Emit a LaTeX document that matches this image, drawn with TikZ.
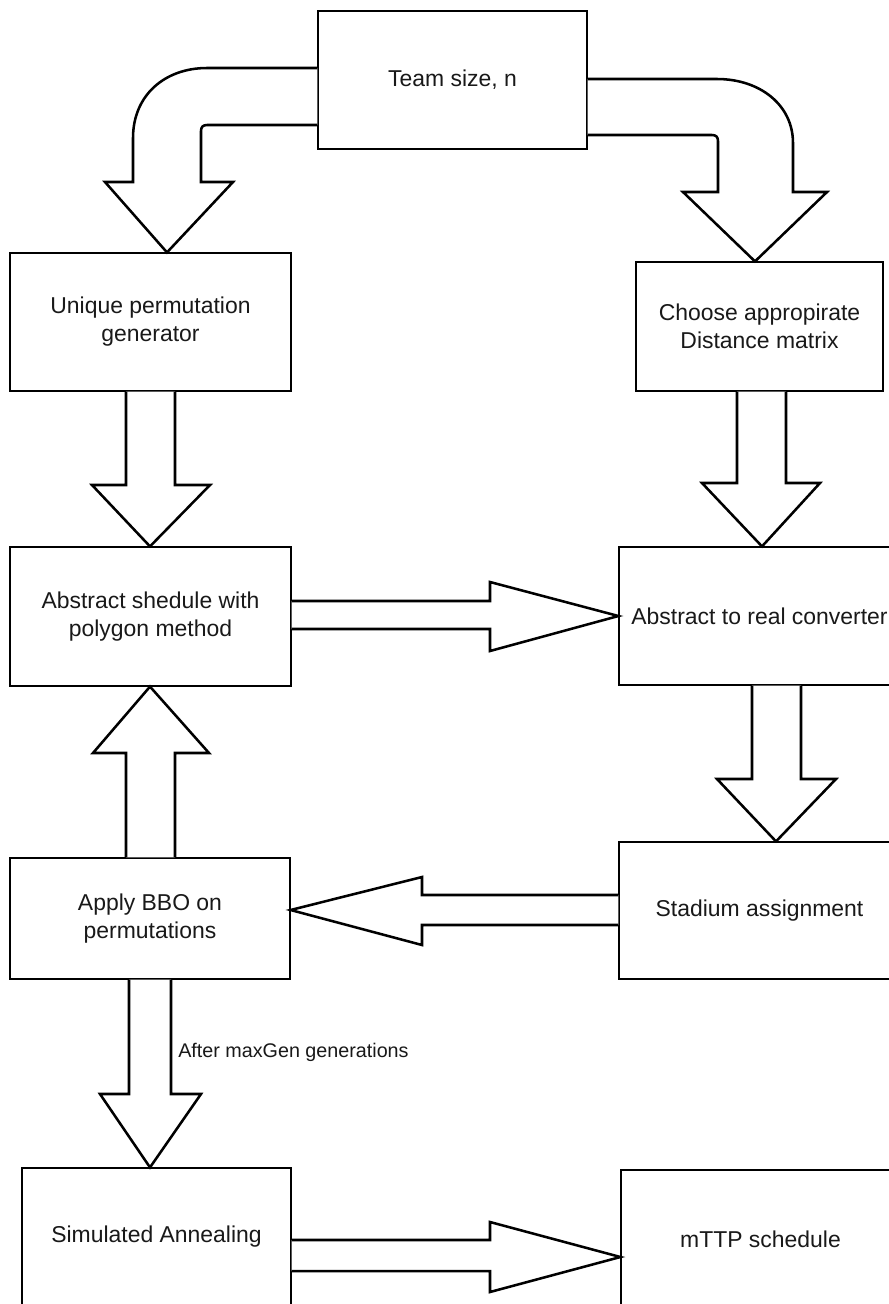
\documentclass[tikz,border=0pt]{standalone}
\usepackage{fontspec}
\setmainfont{Liberation Sans}
\begin{document}
\begin{tikzpicture}[x=0.75pt,y=-0.75pt,
  box/.style={draw=black, line width=0.9pt, rectangle, align=center, inner sep=0pt,
    font=\fontsize{17.2}{21}\selectfont, text=black!90},
  blk/.style={draw=black, fill=white, line width=1.9pt, line join=miter, miter limit=10},
  lbl/.style={font=\fontsize{14.8}{18}\selectfont, text=black!90, inner sep=0pt, anchor=west}]
\path[use as bounding box, clip] (0,0) rectangle (889,1304);
\fill[white] (0,0) rectangle (889,1304);

% boxes
\node[box, minimum width=201.75pt, minimum height=103.5pt] (team) at (452.5,80) {Team size, n};
\node[box, minimum width=210.75pt, minimum height=103.5pt] (uniq) at (150.5,322) {Unique permutation\\generator};
\node[box, minimum width=185.25pt, minimum height=96.75pt] (choose) at (759.5,326.5) {Choose appropirate\\Distance matrix};
\node[box, minimum width=210.75pt, minimum height=104.25pt] (abs) at (150.5,616.5) {Abstract shedule with\\polygon method};
\node[box, minimum width=210.75pt, minimum height=103.5pt] (conv) at (759.5,616) {Abstract to real converter};
\node[box, minimum width=210pt, minimum height=90.75pt] (bbo) at (150,918.5) {Apply BBO on\\permutations};
\node[box, minimum width=210.75pt, minimum height=102.75pt] (stad) at (759.5,910.5) {Stadium assignment};
\node[box, minimum width=201.75pt, minimum height=103.5pt] (sa) at (156.5,1237) {Simulated Annealing};
\node[box, minimum width=209.25pt, minimum height=103.5pt] (mttp) at (760.5,1239) {mTTP schedule};

% curved arrow team -> uniq
\draw[blk] (318,68 -| team.west) -- (207,68)
  .. controls (165,68) and (133,95) .. (133,138) -- (133,182) -- (105,182)
  -- (167,0 |- uniq.north) -- (233,182) -- (201,182) -- (201,131)
  .. controls (201,127) and (203,125) .. (207,125) -- (318,125 -| team.west);

% curved arrow team -> choose
\draw[blk] (587,79 -| team.east) -- (717,79)
  .. controls (760,79) and (793,105) .. (793,143) -- (793,192) -- (827,192)
  -- (755,0 |- choose.north) -- (683,192) -- (718,192) -- (718,141)
  .. controls (718,137) and (716,135) .. (712,135) -- (587,135 -| team.east);

% uniq -> abs
\draw[blk] (126,0 |- uniq.south) -- (126,485) -- (92,485) -- (150,0 |- abs.north)
  -- (210,485) -- (175,485) -- (175,0 |- uniq.south);

% choose -> conv
\draw[blk] (737,0 |- choose.south) -- (737,483) -- (702,483) -- (762,0 |- conv.north)
  -- (820,483) -- (786,483) -- (786,0 |- choose.south);

% abs -> conv
\draw[blk] (abs.east |- 0,601) -- (490,601) -- (490,582) -- (conv.west |- 0,616)
  -- (490,651) -- (490,629) -- (abs.east |- 0,629);

% conv -> stad
\draw[blk] (752,0 |- conv.south) -- (752,779) -- (717,779) -- (776,0 |- stad.north)
  -- (836,779) -- (801,779) -- (801,0 |- conv.south);

% stad -> bbo
\draw[blk] (stad.west |- 0,895) -- (422,895) -- (422,877) -- (bbo.east |- 0,910)
  -- (422,945) -- (422,925) -- (stad.west |- 0,925);

% bbo -> abs (up)
\draw[blk] (126,0 |- bbo.north) -- (126,753) -- (93,753) -- (150,0 |- abs.south)
  -- (209,753) -- (175,753) -- (175,0 |- bbo.north);

% bbo -> sa
\draw[blk] (129,0 |- bbo.south) -- (129,1094) -- (100,1094) -- (150,0 |- sa.north)
  -- (201,1094) -- (171,1094) -- (171,0 |- bbo.south);
\node[lbl] (gen) at (178,1052) {After maxGen generations};

% sa -> mttp
\draw[blk] (sa.east |- 0,1240) -- (490,1240) -- (490,1222) -- (mttp.west |- 0,1257)
  -- (490,1292) -- (490,1271) -- (sa.east |- 0,1271);
\end{tikzpicture}
\end{document}
